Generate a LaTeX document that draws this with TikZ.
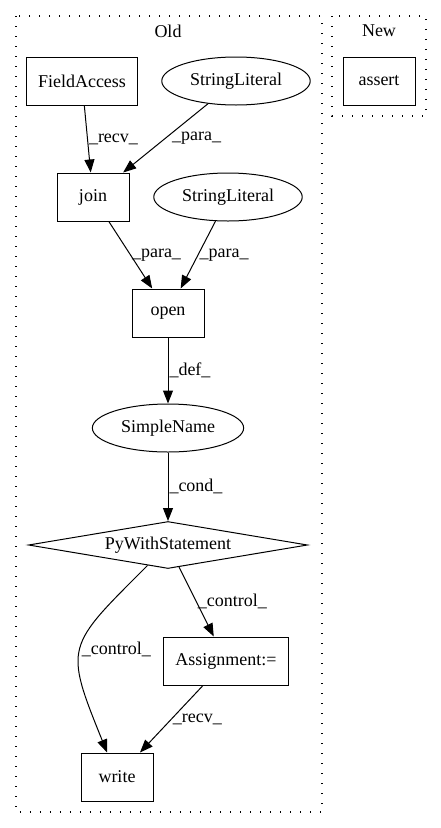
\documentclass[tikz,border=0pt]{standalone}
\usepackage{fontspec}
\setmainfont{Liberation Serif}
\usetikzlibrary{positioning}
\usetikzlibrary{arrows.meta,shapes.geometric}

\tikzset{
  astbox/.style={draw,line width=1pt,minimum width=72pt,minimum height=48pt,inner xsep=11.5pt},
  astell/.style={draw,ellipse,line width=1pt,minimum height=48pt,inner xsep=6.5pt},
  astdiam/.style={draw,diamond,aspect=6,inner sep=0pt,line width=1pt,minimum width=279pt,minimum height=47pt},
  flow/.style={line width=1pt,-{Triangle[length=13pt,width=10pt]}},
  elabel/.style={right,inner sep=1pt},
  cluster/.style={line width=1.3pt,dash pattern=on 1.3pt off 8.7pt},
}

\begin{document}
\begin{tikzpicture}[x=1pt,y=1pt,font=\fontsize{18}{22}\selectfont]
 \useasboundingbox (0,0) rectangle (441,-828);
 % clusters
 \draw[cluster] (16,-16) rectangle (322,-812);
 \draw[cluster] (332,-16) rectangle (426,-116);
 \node (old) at (168,-31) {Old};
 \node (new) at (379,-31) {New};
 % nodes
 \node[astbox] (fa) at (82,-81) {FieldAccess};
 \node[astell] (str1) at (236,-81) {StringLiteral};
 \node[astbox] (assert) at (379,-81) {assert};
 \node[astbox] (join) at (93,-197) {join};
 \node[astell] (str2) at (228,-197) {StringLiteral};
 \node[astbox] (open) at (168,-313) {open};
 \node[astell] (sname) at (168,-428) {SimpleName};
 \node[astdiam] (pws) at (168,-545) {PyWithStatement};
 \node[astbox] (assign) at (226,-661) {Assignment:=};
 \node[astbox] (write) at (117,-777) {write};
 % edges
 \draw[flow] (fa) -- node[elabel] {\_recv\_} (join);
 \draw[flow] (str1) -- node[elabel,xshift=5pt] {\_para\_} (join);
 \draw[flow] (join) -- node[elabel] {\_para\_} (open);
 \draw[flow] (str2) -- node[elabel] {\_para\_} (open);
 \draw[flow] (open) -- node[elabel] {\_def\_} (sname);
 \draw[flow] (sname) -- node[elabel] {\_cond\_} (pws);
 \draw[flow] (pws) -- node[elabel] {\_control\_} (assign);
 \draw[flow] (pws) to[out=225,in=112,looseness=1.55] node[elabel] {\_control\_} (write);
 \draw[flow] (assign) -- node[elabel] {\_recv\_} (write);
\end{tikzpicture}
\end{document}
